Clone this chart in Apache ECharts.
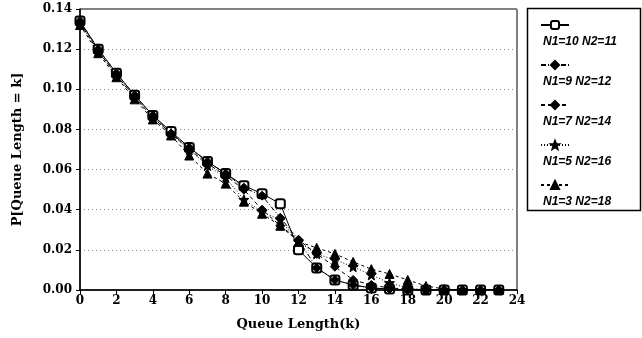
<!DOCTYPE html>
<html>
<head>
<meta charset="utf-8">
<script src="https://cdn.jsdelivr.net/npm/echarts@6/dist/echarts.min.js"></script>
<style>
  html, body { margin: 0; padding: 0; background: #fff; }
  #chart { width: 642px; height: 338px; }
</style>
</head>
<body>
<div id="chart"></div>
<script>
// Queue length k = 0..23
const queueLength = [0,1,2,3,4,5,6,7,8,9,10,11,12,13,14,15,16,17,18,19,20,21,22,23];

// P[Queue Length = k] for each (N1, N2) split
const probN10N11 = [0.134,0.120,0.108,0.097,0.087,0.079,0.071,0.064,0.058,0.052,0.048,0.043,0.020,0.011,0.005,0.0025,0.001,0.0005,0,0,0,0,0,0];
const probN9N12  = [0.134,0.120,0.108,0.097,0.087,0.078,0.071,0.064,0.058,0.051,0.047,0.036,0.025,0.011,0.005,0.0025,0.001,0.0005,0,0,0,0,0,0];
const probN7N14  = [0.133,0.119,0.107,0.096,0.086,0.078,0.070,0.063,0.057,0.050,0.040,0.032,0.025,0.018,0.0116,0.005,0.0025,0.001,0.0005,0,0,0,0,0];
const probN5N16  = [0.133,0.119,0.107,0.096,0.086,0.078,0.070,0.062,0.056,0.045,0.039,0.035,0.024,0.018,0.015,0.0116,0.0075,0.0035,0.001,0,0,0,0,0];
const probN3N18  = [0.132,0.118,0.106,0.095,0.085,0.077,0.067,0.058,0.053,0.044,0.038,0.032,0.024,0.021,0.018,0.014,0.0104,0.008,0.005,0.002,0.0005,0,0,0];

const seriesNames = ['N1=10 N2=11','N1=9 N2=12','N1=7 N2=14','N1=5 N2=16','N1=3 N2=18'];

const xTicks = { min: 0, max: 24, step: 2 };
const yTicks = { min: 0, max: 0.14, step: 0.02 };

const STAR = 'path://M0,-10 L2.6,-3.4 L9.5,-3.1 L4.1,1.3 L5.9,8.1 L0,4.2 L-5.9,8.1 L-4.1,1.3 L-9.5,-3.1 L-2.6,-3.4 Z';

const SERIF = "'DejaVu Serif', 'Liberation Serif', serif";
const SANS = "'Liberation Sans', Arial, sans-serif";

function pairs(values) {
  return values.map((v, i) => [queueLength[i], v]);
}

function lineSeries(name, values, symbol, size, dash) {
  return {
    name: name,
    type: 'line',
    data: pairs(values),
    symbol: symbol,
    symbolSize: size,
    showSymbol: true,
    lineStyle: { color: '#000', width: 1, type: dash },
    itemStyle: { color: '#000', borderColor: '#000', borderWidth: 1 },
    animation: false
  };
}

const chart = echarts.init(document.getElementById('chart'), null, { renderer: 'canvas' });

const legendCommon = {
  orient: 'vertical',
  itemHeight: 10,
  selectedMode: false,
  data: seriesNames
};

chart.setOption({
  backgroundColor: '#fff',
  animation: false,
  grid: {
    left: 80, right: 125, top: 9, bottom: 48,
    show: true, borderColor: '#000', borderWidth: 1
  },
  xAxis: {
    type: 'value',
    min: xTicks.min, max: xTicks.max, interval: xTicks.step,
    name: 'Queue Length(k)',
    nameLocation: 'middle',
    nameGap: 28,
    nameTextStyle: { fontFamily: SERIF, fontWeight: 'bold', fontSize: 13, color: '#000' },
    axisLine: { lineStyle: { color: '#000', width: 1.5 } },
    axisTick: { show: true, length: 4, lineStyle: { color: '#000' } },
    axisLabel: { fontFamily: SERIF, fontWeight: 'bold', fontSize: 12, color: '#000', margin: 5 },
    splitLine: { show: false }
  },
  yAxis: {
    type: 'value',
    min: yTicks.min, max: yTicks.max, interval: yTicks.step,
    name: 'P[Queue Length = k]',
    nameLocation: 'middle',
    nameGap: 56,
    nameTextStyle: { fontFamily: SERIF, fontWeight: 'bold', fontSize: 13, color: '#000' },
    axisLine: { show: true, lineStyle: { color: '#000', width: 1.5 } },
    axisTick: { show: true, length: 4, lineStyle: { color: '#000' } },
    axisLabel: {
      fontFamily: SERIF, fontWeight: 'bold', fontSize: 12, color: '#000', margin: 8,
      formatter: v => v.toFixed(2)
    },
    splitLine: { show: true, lineStyle: { color: '#888', type: [1, 3], width: 1 } }
  },
  legend: [
    Object.assign({}, legendCommon, {
      left: 535,
      top: 15,
      itemGap: 30,
      itemWidth: 28,
      formatter: () => ''
    }),
    Object.assign({}, legendCommon, {
      left: 528,
      top: 30,
      itemGap: 26,
      itemWidth: 0,
      itemStyle: { opacity: 0 },
      lineStyle: { opacity: 0 },
      textStyle: { fontFamily: SANS, fontStyle: 'italic', fontWeight: 'bold', fontSize: 12, lineHeight: 14, color: '#000' }
    })
  ],
  graphic: [{
    type: 'rect',
    shape: { x: 527.5, y: 8.5, width: 113, height: 202 },
    style: { fill: 'none', stroke: '#000', lineWidth: 1.5 },
    silent: true
  }],
  series: [
    lineSeries(seriesNames[0], probN10N11, 'emptyRoundRect', 9, 'solid'),
    lineSeries(seriesNames[1], probN9N12, 'diamond', 9, [5, 2, 1, 2]),
    lineSeries(seriesNames[2], probN7N14, 'diamond', 9, [4, 3]),
    lineSeries(seriesNames[3], probN5N16, STAR, 10, [1, 2]),
    lineSeries(seriesNames[4], probN3N18, 'triangle', 9, [3, 3])
  ]
});
</script>
</body>
</html>
